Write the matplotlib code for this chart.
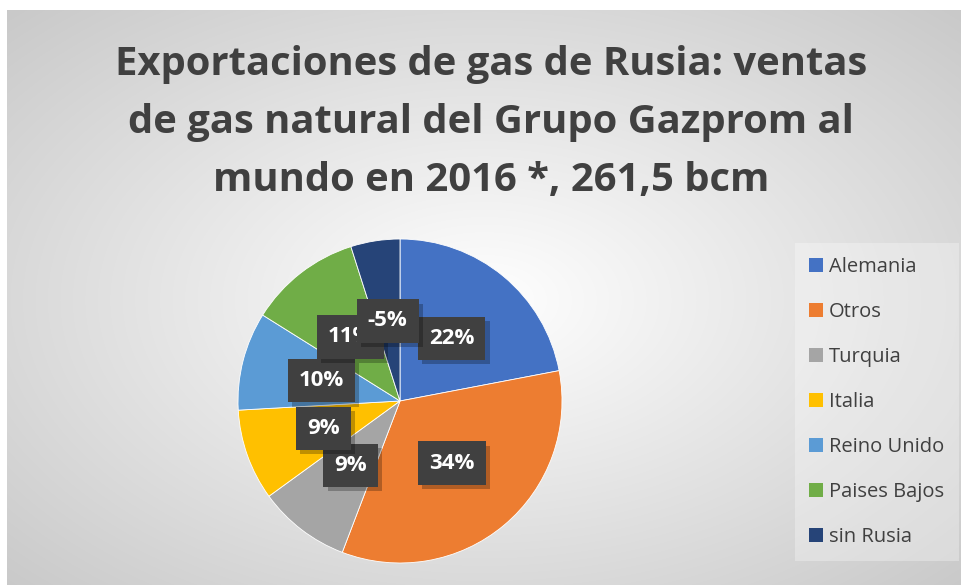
import numpy as np
import matplotlib
matplotlib.use("Agg")
import matplotlib.pyplot as plt
from matplotlib.patches import Patch
import matplotlib.patheffects as pe

# Data
countries = ["Alemania", "Otros", "Turquia", "Italia", "Reino Unido",
             "Paises Bajos", "sin Rusia"]
shares = [22.0, 33.8, 9.2, 9.1, 9.8, 11.2, 4.9]
share_labels = ["22%", "34%", "9%", "9%", "10%", "11%", "-5%"]
colors = ["#4472C4", "#ED7D31", "#A5A5A5", "#FFC000", "#5B9BD5",
          "#70AD47", "#264478"]
title_lines = ["Exportaciones de gas de Rusia: ventas",
               "de gas natural del Grupo Gazprom al",
               "mundo en 2016 *, 261,5 bcm"]

W, H = 961, 585
plt.rcParams["font.family"] = ["Open Sans", "DejaVu Sans"]
fig = plt.figure(figsize=(W / 100, H / 100), dpi=100)
fig.patch.set_facecolor("white")

# chart area background: radial grey gradient
bg = fig.add_axes([7 / W, 0, 1 - 7 / W, 1 - 10 / H])
bg.set_axis_off()
yy, xx = np.mgrid[0:575, 0:954]
r = np.sqrt(((xx - 477) / 477.0) ** 2 + ((yy - 290) / 290.0) ** 2)
shade = 1 - 0.15 * r
bg.imshow(np.dstack([shade] * 3), aspect="auto", interpolation="bilinear",
          extent=(0, 1, 0, 1))
bg.set_xlim(0, 1)
bg.set_ylim(0, 1)

# pie, centre at (400, 401) px, radius 162 px
cx, cy, R = 400, 401, 162
ax = fig.add_axes([(cx - R) / W, (H - cy - R) / H, 2 * R / W, 2 * R / H])
wedges, texts, autotexts = ax.pie(
    shares, colors=colors, startangle=90, counterclock=False,
    autopct="%1.0f%%", pctdistance=0.5,
    wedgeprops=dict(edgecolor="white", linewidth=0.6))
ax.set_xlim(-1, 1)
ax.set_ylim(-1, 1)
ax.set_aspect("equal")

# data labels: dark boxes with a soft drop shadow
for t, lab in zip(autotexts, share_labels):
    t.set_text(lab)
    t.set_color("white")
    t.set_fontsize(16)
    t.set_fontweight("bold")
    t.set_bbox(dict(boxstyle="square,pad=0.5", fc="#404040",
                    ec="none", lw=0))
    t.get_bbox_patch().set_path_effects(
        [pe.SimplePatchShadow(offset=(3, -3), shadow_rgbFace="#000000",
                              alpha=0.25), pe.Normal()])

# title
for i, line in enumerate(title_lines):
    fig.text(491 / W, 1 - (64 + i * 58.5) / H, line, ha="center",
             va="center", fontsize=28.8, fontweight="bold", color="#404040")

# legend
handles = [Patch(facecolor=c, edgecolor="none") for c in colors]
leg = fig.legend(handles, countries, loc="upper left",
                 bbox_to_anchor=(795 / W, 1 - 243 / H),
                 frameon=True, fontsize=14.5, handlelength=0.7,
                 handleheight=0.7, handletextpad=0.3, labelspacing=1.24,
                 borderpad=0.7, borderaxespad=0, fancybox=False)
leg.get_frame().set_facecolor("white")
leg.get_frame().set_alpha(0.3)
leg.get_frame().set_edgecolor("none")
for t in leg.get_texts():
    t.set_color("#404040")

fig.savefig("out.png", dpi=100)
